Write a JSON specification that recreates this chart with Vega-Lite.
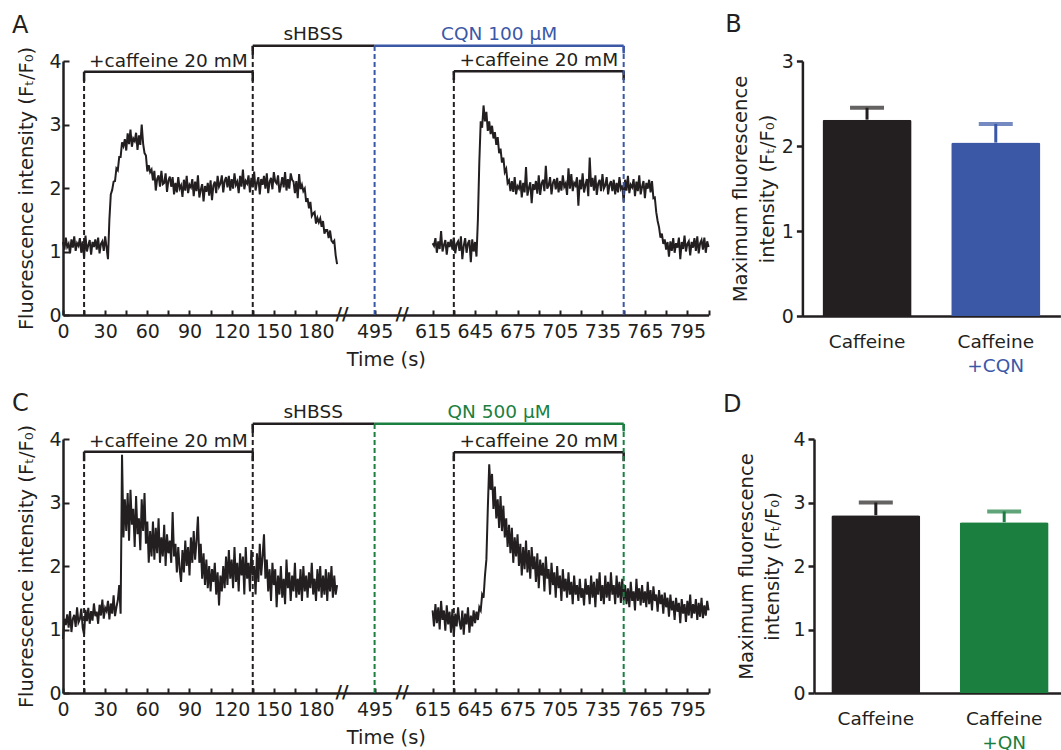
{
"$schema": "https://vega.github.io/schema/vega-lite/v6.json",
"padding": {"left": 11, "top": 13, "right": 0, "bottom": 0},
"config": {
 "font": "DejaVu Sans",
 "view": {"stroke": null},
 "axis": {"labelFont": "DejaVu Sans", "titleFont": "DejaVu Sans", "labelColor": "#231f20", "titleColor": "#231f20", "domainColor": "#231f20", "tickColor": "#231f20", "grid": false, "labelFontSize": 19, "titleFontSize": 19.5, "titleFontWeight": "normal", "domainWidth": 2.5, "tickWidth": 2, "labelFlush": false, "labelOverlap": false, "labelBound": false},
 "title": {"fontSize": 24, "fontWeight": "normal", "anchor": "start", "frame": "bounds", "color": "#231f20", "font": "DejaVu Sans"},
 "text": {"font": "DejaVu Sans"}
},
"datasets": {
 "a1": [{"t":0,"f":1.15},{"t":1,"f":1.03},{"t":2,"f":1.22},{"t":3,"f":1.07},{"t":4,"f":1.12},{"t":5,"f":0.97},{"t":6,"f":1.19},{"t":7,"f":1.06},{"t":8,"f":1.24},{"t":9,"f":1.01},{"t":10,"f":1.13},{"t":11,"f":1.09},{"t":12,"f":1.21},{"t":13,"f":0.98},{"t":14,"f":1.16},{"t":15,"f":0.9},{"t":16,"f":1.25},{"t":17,"f":1.0},{"t":18,"f":1.1},{"t":19,"f":1.18},{"t":20,"f":0.95},{"t":21,"f":1.15},{"t":22,"f":1.07},{"t":23,"f":1.19},{"t":24,"f":1.03},{"t":25,"f":1.22},{"t":26,"f":0.97},{"t":27,"f":1.12},{"t":28,"f":1.16},{"t":29,"f":1.01},{"t":30,"f":1.24},{"t":31,"f":1.06},{"t":32,"f":0.88},{"t":33,"f":1.5},{"t":34,"f":1.9},{"t":35,"f":1.97},{"t":36,"f":2.1},{"t":37,"f":2.11},{"t":38,"f":2.31},{"t":39,"f":2.28},{"t":40,"f":2.49},{"t":41,"f":2.49},{"t":42,"f":2.72},{"t":43,"f":2.66},{"t":44,"f":2.77},{"t":45,"f":2.59},{"t":46,"f":2.86},{"t":47,"f":2.69},{"t":48,"f":2.92},{"t":49,"f":2.65},{"t":50,"f":2.78},{"t":51,"f":2.74},{"t":52,"f":2.87},{"t":53,"f":2.6},{"t":54,"f":2.83},{"t":55,"f":2.68},{"t":56,"f":3.0},{"t":57,"f":2.7},{"t":58,"f":2.55},{"t":59,"f":2.51},{"t":60,"f":2.26},{"t":61,"f":2.36},{"t":62,"f":2.25},{"t":63,"f":2.29},{"t":64,"f":2.12},{"t":65,"f":2.27},{"t":66,"f":1.96},{"t":67,"f":2.14},{"t":68,"f":2.2},{"t":69,"f":2.02},{"t":70,"f":2.27},{"t":71,"f":2.06},{"t":72,"f":2.08},{"t":73,"f":2.23},{"t":74,"f":1.94},{"t":75,"f":2.12},{"t":76,"f":2.18},{"t":77,"f":2.02},{"t":78,"f":2.17},{"t":79,"f":1.9},{"t":80,"f":2.08},{"t":81,"f":1.93},{"t":82,"f":2.17},{"t":83,"f":1.99},{"t":84,"f":2.04},{"t":85,"f":1.86},{"t":86,"f":2.13},{"t":87,"f":1.96},{"t":88,"f":2.19},{"t":89,"f":1.92},{"t":90,"f":2.05},{"t":91,"f":2.01},{"t":92,"f":2.14},{"t":93,"f":1.87},{"t":94,"f":2.1},{"t":95,"f":1.95},{"t":96,"f":2.2},{"t":97,"f":1.85},{"t":98,"f":1.97},{"t":99,"f":2.06},{"t":100,"f":1.79},{"t":101,"f":2.03},{"t":102,"f":1.94},{"t":103,"f":2.08},{"t":104,"f":1.88},{"t":105,"f":2.12},{"t":106,"f":1.81},{"t":107,"f":2.04},{"t":108,"f":2.1},{"t":109,"f":1.92},{"t":110,"f":2.19},{"t":111,"f":2.02},{"t":112,"f":2.07},{"t":113,"f":2.2},{"t":114,"f":1.93},{"t":115,"f":2.11},{"t":116,"f":2.17},{"t":117,"f":2.01},{"t":118,"f":2.19},{"t":119,"f":1.96},{"t":120,"f":2.14},{"t":121,"f":1.99},{"t":122,"f":2.23},{"t":123,"f":2.05},{"t":124,"f":2.1},{"t":125,"f":1.92},{"t":126,"f":2.19},{"t":127,"f":2.02},{"t":128,"f":2.29},{"t":129,"f":1.98},{"t":130,"f":2.11},{"t":131,"f":2.07},{"t":132,"f":2.2},{"t":133,"f":1.93},{"t":134,"f":2.16},{"t":135,"f":2.01},{"t":136,"f":2.26},{"t":137,"f":1.96},{"t":138,"f":2.08},{"t":139,"f":2.17},{"t":140,"f":1.9},{"t":141,"f":2.14},{"t":142,"f":2.05},{"t":143,"f":2.19},{"t":144,"f":1.99},{"t":145,"f":2.23},{"t":146,"f":1.92},{"t":147,"f":2.1},{"t":148,"f":2.16},{"t":149,"f":1.98},{"t":150,"f":2.25},{"t":151,"f":2.1},{"t":152,"f":2.07},{"t":153,"f":2.2},{"t":154,"f":1.93},{"t":155,"f":2.04},{"t":156,"f":2.17},{"t":157,"f":2.01},{"t":158,"f":2.25},{"t":159,"f":1.96},{"t":160,"f":2.14},{"t":161,"f":1.99},{"t":162,"f":2.23},{"t":163,"f":2.13},{"t":164,"f":2.1},{"t":165,"f":1.92},{"t":166,"f":2.11},{"t":167,"f":1.84},{"t":168,"f":2.22},{"t":169,"f":1.98},{"t":170,"f":2.05},{"t":171,"f":1.95},{"t":172,"f":1.99},{"t":173,"f":1.78},{"t":174,"f":1.84},{"t":175,"f":1.68},{"t":176,"f":1.78},{"t":177,"f":1.56},{"t":178,"f":1.6},{"t":179,"f":1.62},{"t":180,"f":1.44},{"t":181,"f":1.53},{"t":182,"f":1.46},{"t":183,"f":1.52},{"t":184,"f":1.39},{"t":185,"f":1.48},{"t":186,"f":1.28},{"t":187,"f":1.34},{"t":188,"f":1.34},{"t":189,"f":1.21},{"t":190,"f":1.33},{"t":191,"f":1.17},{"t":192,"f":1.14},{"t":193,"f":1.17},{"t":194,"f":0.94},{"t":195,"f":0.8}],
 "a2": [{"t":615,"f":1.13},{"t":616,"f":1.09},{"t":617,"f":1.21},{"t":618,"f":0.98},{"t":619,"f":1.16},{"t":620,"f":1.04},{"t":621,"f":1.32},{"t":622,"f":1.0},{"t":623,"f":1.1},{"t":624,"f":1.18},{"t":625,"f":0.95},{"t":626,"f":1.15},{"t":627,"f":1.07},{"t":628,"f":1.19},{"t":629,"f":1.03},{"t":630,"f":1.22},{"t":631,"f":0.97},{"t":632,"f":1.12},{"t":633,"f":1.16},{"t":634,"f":1.01},{"t":635,"f":1.24},{"t":636,"f":0.88},{"t":637,"f":1.09},{"t":638,"f":1.21},{"t":639,"f":0.98},{"t":640,"f":1.13},{"t":641,"f":1.18},{"t":642,"f":0.83},{"t":643,"f":1.19},{"t":644,"f":1.0},{"t":645,"f":1.15},{"t":646,"f":0.92},{"t":647,"f":1.5},{"t":648,"f":2.4},{"t":649,"f":3.05},{"t":650,"f":2.95},{"t":651,"f":3.3},{"t":652,"f":3.05},{"t":653,"f":3.2},{"t":654,"f":2.9},{"t":655,"f":3.05},{"t":656,"f":2.85},{"t":657,"f":2.98},{"t":658,"f":2.78},{"t":659,"f":2.88},{"t":660,"f":2.68},{"t":661,"f":2.8},{"t":662,"f":2.55},{"t":663,"f":2.62},{"t":664,"f":2.4},{"t":665,"f":2.48},{"t":666,"f":2.25},{"t":667,"f":2.3},{"t":668,"f":2.08},{"t":669,"f":2.12},{"t":670,"f":1.95},{"t":671,"f":2.11},{"t":672,"f":1.94},{"t":673,"f":2.17},{"t":674,"f":1.9},{"t":675,"f":2.03},{"t":676,"f":1.99},{"t":677,"f":2.12},{"t":678,"f":1.85},{"t":679,"f":2.08},{"t":680,"f":1.93},{"t":681,"f":2.33},{"t":682,"f":1.88},{"t":683,"f":2.0},{"t":684,"f":2.09},{"t":685,"f":1.76},{"t":686,"f":2.06},{"t":687,"f":1.97},{"t":688,"f":2.11},{"t":689,"f":1.91},{"t":690,"f":2.2},{"t":691,"f":1.89},{"t":692,"f":2.07},{"t":693,"f":2.13},{"t":694,"f":1.95},{"t":695,"f":2.35},{"t":696,"f":1.99},{"t":697,"f":2.04},{"t":698,"f":2.17},{"t":699,"f":1.9},{"t":700,"f":2.08},{"t":701,"f":2.14},{"t":702,"f":1.98},{"t":703,"f":2.16},{"t":704,"f":1.93},{"t":705,"f":2.11},{"t":706,"f":1.96},{"t":707,"f":2.2},{"t":708,"f":2.02},{"t":709,"f":2.07},{"t":710,"f":1.89},{"t":711,"f":2.31},{"t":712,"f":1.99},{"t":713,"f":2.22},{"t":714,"f":1.95},{"t":715,"f":2.08},{"t":716,"f":2.04},{"t":717,"f":2.17},{"t":718,"f":1.72},{"t":719,"f":2.13},{"t":720,"f":1.98},{"t":721,"f":2.23},{"t":722,"f":1.93},{"t":723,"f":2.05},{"t":724,"f":2.14},{"t":725,"f":1.87},{"t":726,"f":2.48},{"t":727,"f":2.02},{"t":728,"f":2.16},{"t":729,"f":1.96},{"t":730,"f":2.2},{"t":731,"f":1.89},{"t":732,"f":2.07},{"t":733,"f":2.13},{"t":734,"f":1.95},{"t":735,"f":2.22},{"t":736,"f":1.99},{"t":737,"f":2.04},{"t":738,"f":2.17},{"t":739,"f":1.9},{"t":740,"f":2.05},{"t":741,"f":2.11},{"t":742,"f":1.95},{"t":743,"f":2.13},{"t":744,"f":1.9},{"t":745,"f":2.08},{"t":746,"f":1.93},{"t":747,"f":2.17},{"t":748,"f":1.99},{"t":749,"f":2.04},{"t":750,"f":1.78},{"t":751,"f":2.13},{"t":752,"f":1.96},{"t":753,"f":2.19},{"t":754,"f":1.92},{"t":755,"f":2.05},{"t":756,"f":2.01},{"t":757,"f":2.14},{"t":758,"f":1.87},{"t":759,"f":2.1},{"t":760,"f":1.95},{"t":761,"f":2.2},{"t":762,"f":1.9},{"t":763,"f":2.02},{"t":764,"f":2.11},{"t":765,"f":1.84},{"t":766,"f":2.08},{"t":767,"f":1.99},{"t":768,"f":2.13},{"t":769,"f":1.93},{"t":770,"f":2.11},{"t":771,"f":1.84},{"t":772,"f":1.85},{"t":773,"f":1.62},{"t":774,"f":1.48},{"t":775,"f":1.38},{"t":776,"f":1.22},{"t":777,"f":1.28},{"t":778,"f":1.12},{"t":779,"f":1.19},{"t":780,"f":1.03},{"t":781,"f":1.15},{"t":782,"f":0.92},{"t":783,"f":1.16},{"t":784,"f":1.01},{"t":785,"f":1.21},{"t":786,"f":0.98},{"t":787,"f":1.13},{"t":788,"f":1.06},{"t":789,"f":1.22},{"t":790,"f":0.88},{"t":791,"f":1.15},{"t":792,"f":1.04},{"t":793,"f":1.25},{"t":794,"f":1.0},{"t":795,"f":1.12},{"t":796,"f":1.16},{"t":797,"f":0.94},{"t":798,"f":1.15},{"t":799,"f":1.06},{"t":800,"f":1.21},{"t":801,"f":1.01},{"t":802,"f":1.24},{"t":803,"f":0.97},{"t":804,"f":1.13},{"t":805,"f":1.18},{"t":806,"f":1.03},{"t":807,"f":1.22},{"t":808,"f":0.98},{"t":809,"f":1.16},{"t":810,"f":1.07}],
 "c1": [{"t":0,"f":0.85},{"t":1,"f":1.17},{"t":2,"f":1.07},{"t":3,"f":1.24},{"t":4,"f":1.03},{"t":5,"f":1.29},{"t":6,"f":0.96},{"t":7,"f":1.17},{"t":8,"f":1.23},{"t":9,"f":1.04},{"t":10,"f":1.35},{"t":11,"f":1.11},{"t":12,"f":1.16},{"t":13,"f":1.33},{"t":14,"f":1.03},{"t":15,"f":0.92},{"t":16,"f":1.31},{"t":17,"f":1.13},{"t":18,"f":1.34},{"t":19,"f":1.09},{"t":20,"f":1.29},{"t":21,"f":1.14},{"t":22,"f":1.41},{"t":23,"f":1.21},{"t":24,"f":1.28},{"t":25,"f":1.09},{"t":26,"f":1.39},{"t":27,"f":1.22},{"t":28,"f":1.47},{"t":29,"f":1.17},{"t":30,"f":1.34},{"t":31,"f":1.29},{"t":32,"f":1.45},{"t":33,"f":1.16},{"t":34,"f":1.41},{"t":35,"f":1.25},{"t":36,"f":1.54},{"t":37,"f":1.21},{"t":38,"f":1.35},{"t":39,"f":1.46},{"t":40,"f":1.7},{"t":41,"f":1.25},{"t":42,"f":3.75},{"t":43,"f":2.45},{"t":44,"f":3.05},{"t":45,"f":2.55},{"t":46,"f":3.15},{"t":47,"f":2.4},{"t":48,"f":3.2},{"t":49,"f":2.65},{"t":50,"f":2.9},{"t":51,"f":2.3},{"t":52,"f":3.1},{"t":53,"f":2.5},{"t":54,"f":2.75},{"t":55,"f":2.25},{"t":56,"f":3.05},{"t":57,"f":2.55},{"t":58,"f":3.15},{"t":59,"f":2.35},{"t":60,"f":2.7},{"t":61,"f":2.05},{"t":62,"f":2.55},{"t":63,"f":2.15},{"t":64,"f":2.7},{"t":65,"f":2.1},{"t":66,"f":2.6},{"t":67,"f":2.2},{"t":68,"f":2.75},{"t":69,"f":2.05},{"t":70,"f":2.45},{"t":71,"f":2.15},{"t":72,"f":2.65},{"t":73,"f":2.0},{"t":74,"f":2.5},{"t":75,"f":2.2},{"t":76,"f":2.4},{"t":77,"f":2.05},{"t":78,"f":2.85},{"t":79,"f":2.15},{"t":80,"f":2.35},{"t":81,"f":1.9},{"t":82,"f":2.3},{"t":83,"f":1.95},{"t":84,"f":1.75},{"t":85,"f":2.25},{"t":86,"f":1.9},{"t":87,"f":2.4},{"t":88,"f":2.0},{"t":89,"f":2.3},{"t":90,"f":1.85},{"t":91,"f":2.45},{"t":92,"f":2.05},{"t":93,"f":2.55},{"t":94,"f":2.1},{"t":95,"f":2.4},{"t":96,"f":2.78},{"t":97,"f":2.05},{"t":98,"f":2.35},{"t":99,"f":1.8},{"t":100,"f":2.2},{"t":101,"f":1.7},{"t":102,"f":2.1},{"t":103,"f":1.65},{"t":104,"f":2.0},{"t":105,"f":1.6},{"t":106,"f":1.95},{"t":107,"f":1.75},{"t":108,"f":2.05},{"t":109,"f":1.55},{"t":110,"f":1.9},{"t":111,"f":1.38},{"t":112,"f":1.85},{"t":113,"f":1.6},{"t":114,"f":2.0},{"t":115,"f":1.65},{"t":116,"f":2.15},{"t":117,"f":1.7},{"t":118,"f":2.25},{"t":119,"f":1.8},{"t":120,"f":2.1},{"t":121,"f":1.65},{"t":122,"f":2.3},{"t":123,"f":1.75},{"t":124,"f":2.05},{"t":125,"f":1.6},{"t":126,"f":2.2},{"t":127,"f":1.85},{"t":128,"f":2.15},{"t":129,"f":1.55},{"t":130,"f":2.3},{"t":131,"f":1.8},{"t":132,"f":2.05},{"t":133,"f":1.6},{"t":134,"f":2.25},{"t":135,"f":1.85},{"t":136,"f":2.0},{"t":137,"f":1.55},{"t":138,"f":2.2},{"t":139,"f":1.75},{"t":140,"f":2.35},{"t":141,"f":1.85},{"t":142,"f":2.15},{"t":143,"f":2.5},{"t":144,"f":1.8},{"t":145,"f":2.1},{"t":146,"f":1.6},{"t":147,"f":1.95},{"t":148,"f":1.45},{"t":149,"f":2.05},{"t":150,"f":1.7},{"t":151,"f":1.95},{"t":152,"f":1.35},{"t":153,"f":1.85},{"t":154,"f":1.55},{"t":155,"f":2.0},{"t":156,"f":1.5},{"t":157,"f":1.8},{"t":158,"f":1.4},{"t":159,"f":2.1},{"t":160,"f":1.65},{"t":161,"f":1.9},{"t":162,"f":1.45},{"t":163,"f":1.85},{"t":164,"f":1.6},{"t":165,"f":2.05},{"t":166,"f":1.5},{"t":167,"f":1.8},{"t":168,"f":1.55},{"t":169,"f":1.95},{"t":170,"f":1.45},{"t":171,"f":2.0},{"t":172,"f":1.6},{"t":173,"f":1.85},{"t":174,"f":1.5},{"t":175,"f":1.9},{"t":176,"f":1.65},{"t":177,"f":2.05},{"t":178,"f":1.55},{"t":179,"f":1.8},{"t":180,"f":1.45},{"t":181,"f":1.95},{"t":182,"f":1.6},{"t":183,"f":2.0},{"t":184,"f":1.5},{"t":185,"f":1.85},{"t":186,"f":1.55},{"t":187,"f":1.95},{"t":188,"f":1.45},{"t":189,"f":1.9},{"t":190,"f":1.6},{"t":191,"f":2.0},{"t":192,"f":1.5},{"t":193,"f":1.85},{"t":194,"f":1.55},{"t":195,"f":1.7}],
 "c2": [{"t":615,"f":1.3},{"t":616,"f":1.05},{"t":617,"f":1.4},{"t":618,"f":1.1},{"t":619,"f":1.35},{"t":620,"f":1.0},{"t":621,"f":1.45},{"t":622,"f":1.15},{"t":623,"f":1.3},{"t":624,"f":0.98},{"t":625,"f":1.38},{"t":626,"f":1.08},{"t":627,"f":1.28},{"t":628,"f":0.95},{"t":629,"f":1.32},{"t":630,"f":0.9},{"t":631,"f":1.25},{"t":632,"f":1.05},{"t":633,"f":1.35},{"t":634,"f":1.12},{"t":635,"f":1.0},{"t":636,"f":1.3},{"t":637,"f":0.92},{"t":638,"f":1.25},{"t":639,"f":1.08},{"t":640,"f":1.35},{"t":641,"f":0.95},{"t":642,"f":1.22},{"t":643,"f":1.05},{"t":644,"f":1.3},{"t":645,"f":1.1},{"t":646,"f":1.28},{"t":647,"f":1.15},{"t":648,"f":1.35},{"t":649,"f":1.3},{"t":650,"f":1.55},{"t":651,"f":1.5},{"t":652,"f":1.85},{"t":653,"f":2.1},{"t":654,"f":2.9},{"t":655,"f":3.6},{"t":656,"f":3.2},{"t":657,"f":3.45},{"t":658,"f":2.9},{"t":659,"f":3.25},{"t":660,"f":2.75},{"t":661,"f":3.05},{"t":662,"f":2.6},{"t":663,"f":3.1},{"t":664,"f":2.55},{"t":665,"f":2.95},{"t":666,"f":2.45},{"t":667,"f":2.75},{"t":668,"f":2.3},{"t":669,"f":2.65},{"t":670,"f":2.2},{"t":671,"f":2.6},{"t":672,"f":2.05},{"t":673,"f":2.45},{"t":674,"f":2.15},{"t":675,"f":2.5},{"t":676,"f":2.0},{"t":677,"f":2.35},{"t":678,"f":1.85},{"t":679,"f":2.3},{"t":680,"f":1.95},{"t":681,"f":2.4},{"t":682,"f":1.9},{"t":683,"f":2.25},{"t":684,"f":1.8},{"t":685,"f":2.3},{"t":686,"f":1.95},{"t":687,"f":2.15},{"t":688,"f":1.75},{"t":689,"f":2.2},{"t":690,"f":1.65},{"t":691,"f":2.1},{"t":692,"f":1.85},{"t":693,"f":2.05},{"t":694,"f":1.6},{"t":695,"f":2.15},{"t":696,"f":1.8},{"t":697,"f":1.95},{"t":698,"f":1.55},{"t":699,"f":2.05},{"t":700,"f":1.7},{"t":701,"f":1.9},{"t":702,"f":1.5},{"t":703,"f":2.0},{"t":704,"f":1.65},{"t":705,"f":1.85},{"t":706,"f":1.45},{"t":707,"f":1.95},{"t":708,"f":1.6},{"t":709,"f":1.8},{"t":710,"f":1.5},{"t":711,"f":1.9},{"t":712,"f":1.55},{"t":713,"f":1.75},{"t":714,"f":1.4},{"t":715,"f":1.85},{"t":716,"f":1.55},{"t":717,"f":1.7},{"t":718,"f":1.45},{"t":719,"f":1.8},{"t":720,"f":1.5},{"t":721,"f":1.65},{"t":722,"f":1.38},{"t":723,"f":1.8},{"t":724,"f":1.55},{"t":725,"f":1.7},{"t":726,"f":1.4},{"t":727,"f":1.85},{"t":728,"f":1.5},{"t":729,"f":1.75},{"t":730,"f":1.35},{"t":731,"f":1.8},{"t":732,"f":1.55},{"t":733,"f":1.9},{"t":734,"f":1.45},{"t":735,"f":1.7},{"t":736,"f":1.4},{"t":737,"f":1.85},{"t":738,"f":1.5},{"t":739,"f":1.75},{"t":740,"f":1.45},{"t":741,"f":1.9},{"t":742,"f":1.55},{"t":743,"f":1.7},{"t":744,"f":1.4},{"t":745,"f":1.85},{"t":746,"f":1.5},{"t":747,"f":1.75},{"t":748,"f":1.42},{"t":749,"f":1.8},{"t":750,"f":1.45},{"t":751,"f":1.7},{"t":752,"f":1.4},{"t":753,"f":1.65},{"t":754,"f":1.35},{"t":755,"f":1.75},{"t":756,"f":1.45},{"t":757,"f":1.6},{"t":758,"f":1.3},{"t":759,"f":1.8},{"t":760,"f":1.45},{"t":761,"f":1.65},{"t":762,"f":1.38},{"t":763,"f":1.7},{"t":764,"f":1.42},{"t":765,"f":1.6},{"t":766,"f":1.35},{"t":767,"f":1.75},{"t":768,"f":1.4},{"t":769,"f":1.62},{"t":770,"f":1.3},{"t":771,"f":1.68},{"t":772,"f":1.45},{"t":773,"f":1.55},{"t":774,"f":1.28},{"t":775,"f":1.62},{"t":776,"f":1.4},{"t":777,"f":1.55},{"t":778,"f":1.25},{"t":779,"f":1.58},{"t":780,"f":1.35},{"t":781,"f":1.5},{"t":782,"f":1.2},{"t":783,"f":1.55},{"t":784,"f":1.3},{"t":785,"f":1.45},{"t":786,"f":1.15},{"t":787,"f":1.5},{"t":788,"f":1.28},{"t":789,"f":1.42},{"t":790,"f":1.1},{"t":791,"f":1.48},{"t":792,"f":1.25},{"t":793,"f":1.4},{"t":794,"f":1.12},{"t":795,"f":1.45},{"t":796,"f":1.22},{"t":797,"f":1.55},{"t":798,"f":1.18},{"t":799,"f":1.4},{"t":800,"f":1.25},{"t":801,"f":1.48},{"t":802,"f":1.15},{"t":803,"f":1.42},{"t":804,"f":1.2},{"t":805,"f":1.5},{"t":806,"f":1.18},{"t":807,"f":1.38},{"t":808,"f":1.22},{"t":809,"f":1.45},{"t":810,"f":1.3}],
 "annA": [
  {"d":"s","t":15,"t2":135,"y":3.83,"y2":3.83,"g":"k"},
  {"d":"s","t":15,"t2":15,"y":3.83,"y2":3.68,"g":"k"},
  {"d":"s","t":135,"t2":135,"y":3.83,"y2":3.68,"g":"k"},
  {"d":"s","t":135,"t2":495,"y":4.24,"y2":4.24,"g":"k"},
  {"d":"s","t":135,"t2":135,"y":4.24,"y2":4.1,"g":"k"},
  {"d":"s","t":495,"t2":750,"y":4.24,"y2":4.24,"g":"q"},
  {"d":"s","t":750,"t2":750,"y":4.24,"y2":4.12,"g":"q"},
  {"d":"s","t":630,"t2":750,"y":3.84,"y2":3.84,"g":"k"},
  {"d":"s","t":630,"t2":630,"y":3.84,"y2":3.7,"g":"k"},
  {"d":"s","t":750,"t2":750,"y":3.84,"y2":3.7,"g":"k"},
  {"d":"d","t":15,"t2":15,"y":0,"y2":3.83,"g":"k"},
  {"d":"d","t":135,"t2":135,"y":0,"y2":4.24,"g":"k"},
  {"d":"d","t":630,"t2":630,"y":0,"y2":3.84,"g":"k"},
  {"d":"d","t":495,"t2":495,"y":0,"y2":4.24,"g":"q"},
  {"d":"d","t":750,"t2":750,"y":0,"y2":4.24,"g":"q"}
 ],
 "annC": [
  {"d":"s","t":15,"t2":135,"y":3.8,"y2":3.8,"g":"k"},
  {"d":"s","t":15,"t2":15,"y":3.8,"y2":3.65,"g":"k"},
  {"d":"s","t":135,"t2":135,"y":3.8,"y2":3.65,"g":"k"},
  {"d":"s","t":135,"t2":495,"y":4.24,"y2":4.24,"g":"k"},
  {"d":"s","t":135,"t2":135,"y":4.24,"y2":4.1,"g":"k"},
  {"d":"s","t":495,"t2":750,"y":4.24,"y2":4.24,"g":"n"},
  {"d":"s","t":750,"t2":750,"y":4.24,"y2":4.12,"g":"n"},
  {"d":"s","t":630,"t2":750,"y":3.79,"y2":3.79,"g":"k"},
  {"d":"s","t":630,"t2":630,"y":3.79,"y2":3.65,"g":"k"},
  {"d":"s","t":750,"t2":750,"y":3.79,"y2":3.65,"g":"k"},
  {"d":"d","t":15,"t2":15,"y":0,"y2":3.8,"g":"k"},
  {"d":"d","t":135,"t2":135,"y":0,"y2":4.24,"g":"k"},
  {"d":"d","t":630,"t2":630,"y":0,"y2":3.79,"g":"k"},
  {"d":"d","t":495,"t2":495,"y":0,"y2":4.24,"g":"n"},
  {"d":"d","t":750,"t2":750,"y":0,"y2":4.24,"g":"n"}
 ],
 "txtA": [
  {"t":75,"y":3.9,"label":"+caffeine 20 mM","g":"k"},
  {"t":178,"y":4.33,"label":"sHBSS","g":"k"},
  {"t":662,"y":4.33,"label":"CQN 100 μM","g":"q"},
  {"t":690,"y":3.92,"label":"+caffeine 20 mM","g":"k"}
 ],
 "txtC": [
  {"t":75,"y":3.87,"label":"+caffeine 20 mM","g":"k"},
  {"t":178,"y":4.33,"label":"sHBSS","g":"k"},
  {"t":662,"y":4.33,"label":"QN 500 μM","g":"n"},
  {"t":690,"y":3.87,"label":"+caffeine 20 mM","g":"k"}
 ],
 "brk": [{"t":198.5,"y":0},{"t":552,"y":0}],
 "barB": [{"cat":"Caffeine","v":2.31,"e":2.45,"g":"k","sub":""},{"cat":"Caffeine +CQN","v":2.04,"e":2.26,"g":"q","sub":"+CQN"}],
 "barD": [{"cat":"Caffeine","v":2.8,"e":3.0,"g":"k","sub":""},{"cat":"Caffeine +QN","v":2.69,"e":2.86,"g":"n","sub":"+QN"}]
},
"spacing": 16,
"vconcat": [
 {"hconcat": [
  {"title": {"text": "A", "offset": -13, "dx": -5},
   "width": 646, "height": 254,
   "layer": [
    {"data": {"name": "a1"}, "mark": {"type": "line", "color": "#231f20", "strokeWidth": 2},
     "encoding": {
      "x": {"field": "t", "type": "quantitative", "title": "Time (s)",
            "scale": {"domain": [0, 198.5, 495, 615, 810], "range": [0, 279, 311.6, 369.6, 645.6], "nice": false, "zero": false},
            "axis": {"values": [0,15,30,45,60,75,90,105,120,135,150,165,180,495,615,630,645,660,675,690,705,720,735,750,765,780,795,810], "tickCount": 100, "labelExpr": "indexof([0,30,60,90,120,150,180,495,615,645,675,705,735,765,795], datum.value) >= 0 ? datum.label : ''", "format": "d", "tickSize": -5, "labelPadding": 12, "titlePadding": 9}},
      "y": {"field": "f", "type": "quantitative", "title": "Fluorescence intensity (Fₜ/F₀)",
            "scale": {"domain": [0, 4], "nice": false},
            "axis": {"values": [0,1,2,3,4], "format": "d", "tickSize": -6, "labelPadding": 8, "titlePadding": 12}}
     }},
    {"data": {"name": "a2"}, "mark": {"type": "line", "color": "#231f20", "strokeWidth": 2},
     "encoding": {"x": {"field": "t", "type": "quantitative"}, "y": {"field": "f", "type": "quantitative"}}},
    {"data": {"name": "annA"}, "transform": [{"filter": "datum.d == 's'"}], "mark": {"type": "rule", "strokeWidth": 2.5},
     "encoding": {"x": {"field": "t", "type": "quantitative"}, "x2": {"field": "t2"}, "y": {"field": "y", "type": "quantitative"}, "y2": {"field": "y2"},
      "color": {"field": "g", "type": "nominal", "scale": {"domain": ["k","q","n"], "range": ["#231f20","#3b58a7","#1b7f40"]}, "legend": null}}},
    {"data": {"name": "annA"}, "transform": [{"filter": "datum.d == 'd'"}], "mark": {"type": "rule", "strokeWidth": 2, "strokeDash": [5, 3]},
     "encoding": {"x": {"field": "t", "type": "quantitative"}, "y": {"field": "y", "type": "quantitative"}, "y2": {"field": "y2"},
      "color": {"field": "g", "type": "nominal", "legend": null}}},
    {"data": {"name": "txtA"}, "mark": {"type": "text", "fontSize": 18.5, "baseline": "alphabetic", "align": "center"},
     "encoding": {"x": {"field": "t", "type": "quantitative"}, "y": {"field": "y", "type": "quantitative"}, "text": {"field": "label"},
      "color": {"field": "g", "type": "nominal", "legend": null}}},
    {"data": {"name": "brk"}, "mark": {"type": "text", "fontSize": 18, "baseline": "middle", "align": "center", "text": "//", "color": "#231f20", "fontWeight": "bold"},
     "encoding": {"x": {"field": "t", "type": "quantitative"}, "y": {"field": "y", "type": "quantitative"}}}
   ]},
  {"title": {"text": "B", "offset": 15, "dx": -5},
   "width": 258, "height": 255,
   "data": {"name": "barB"},
   "layer": [
    {"mark": {"type": "bar", "cornerRadiusTopLeft": 2, "cornerRadiusTopRight": 2},
     "encoding": {
      "x": {"field": "cat", "type": "nominal", "sort": null, "title": null, "scale": {"paddingInner": 0.308, "paddingOuter": 0.156},
            "axis": {"labelExpr": "'Caffeine'", "ticks": false, "labelPadding": 16, "labelAngle": 0, "labelFontSize": 18.5}},
      "y": {"field": "v", "type": "quantitative", "title": ["Maximum fluorescence", "intensity (Fₜ/F₀)"], "scale": {"domain": [0, 3], "nice": false},
            "axis": {"values": [0,1,2,3], "format": "d", "tickSize": 6, "tickWidth": 2.5, "labelPadding": 3, "titlePadding": 4, "titleLineHeight": 27}},
      "color": {"field": "g", "type": "nominal", "legend": null}}},
    {"mark": {"type": "rule", "strokeWidth": 3},
     "encoding": {"x": {"field": "cat", "type": "nominal", "sort": null}, "y": {"field": "v", "type": "quantitative"}, "y2": {"field": "e"}, "color": {"field": "g", "type": "nominal", "legend": null}}},
    {"mark": {"type": "tick", "thickness": 4, "size": 34},
     "encoding": {"x": {"field": "cat", "type": "nominal", "sort": null}, "y": {"field": "e", "type": "quantitative"}, "color": {"field": "g", "type": "nominal", "legend": null}}},
    {"mark": {"type": "text", "fontSize": 18.5, "baseline": "top", "dy": 41},
     "encoding": {"x": {"field": "cat", "type": "nominal", "sort": null}, "y": {"datum": 0, "type": "quantitative"}, "text": {"field": "sub"}, "color": {"field": "g", "type": "nominal", "legend": null}}}
   ]}
 ], "spacing": 93.4, "bounds": "flush"},
 {"hconcat": [
  {"title": {"text": "C", "offset": -13, "dx": -5},
   "width": 646, "height": 254,
   "layer": [
    {"data": {"name": "c1"}, "mark": {"type": "line", "color": "#231f20", "strokeWidth": 2},
     "encoding": {
      "x": {"field": "t", "type": "quantitative", "title": "Time (s)",
            "scale": {"domain": [0, 198.5, 495, 615, 810], "range": [0, 279, 311.6, 369.6, 645.6], "nice": false, "zero": false},
            "axis": {"values": [0,15,30,45,60,75,90,105,120,135,150,165,180,495,615,630,645,660,675,690,705,720,735,750,765,780,795,810], "tickCount": 100, "labelExpr": "indexof([0,30,60,90,120,150,180,495,615,645,675,705,735,765,795], datum.value) >= 0 ? datum.label : ''", "format": "d", "tickSize": -5, "labelPadding": 12, "titlePadding": 9}},
      "y": {"field": "f", "type": "quantitative", "title": "Fluorescence intensity (Fₜ/F₀)",
            "scale": {"domain": [0, 4], "nice": false},
            "axis": {"values": [0,1,2,3,4], "format": "d", "tickSize": -6, "labelPadding": 8, "titlePadding": 12}}
     }},
    {"data": {"name": "c2"}, "mark": {"type": "line", "color": "#231f20", "strokeWidth": 2},
     "encoding": {"x": {"field": "t", "type": "quantitative"}, "y": {"field": "f", "type": "quantitative"}}},
    {"data": {"name": "annC"}, "transform": [{"filter": "datum.d == 's'"}], "mark": {"type": "rule", "strokeWidth": 2.5},
     "encoding": {"x": {"field": "t", "type": "quantitative"}, "x2": {"field": "t2"}, "y": {"field": "y", "type": "quantitative"}, "y2": {"field": "y2"},
      "color": {"field": "g", "type": "nominal", "scale": {"domain": ["k","q","n"], "range": ["#231f20","#3b58a7","#1b7f40"]}, "legend": null}}},
    {"data": {"name": "annC"}, "transform": [{"filter": "datum.d == 'd'"}], "mark": {"type": "rule", "strokeWidth": 2, "strokeDash": [5, 3]},
     "encoding": {"x": {"field": "t", "type": "quantitative"}, "y": {"field": "y", "type": "quantitative"}, "y2": {"field": "y2"},
      "color": {"field": "g", "type": "nominal", "legend": null}}},
    {"data": {"name": "txtC"}, "mark": {"type": "text", "fontSize": 18.5, "baseline": "alphabetic", "align": "center"},
     "encoding": {"x": {"field": "t", "type": "quantitative"}, "y": {"field": "y", "type": "quantitative"}, "text": {"field": "label"},
      "color": {"field": "g", "type": "nominal", "legend": null}}},
    {"data": {"name": "brk"}, "mark": {"type": "text", "fontSize": 18, "baseline": "middle", "align": "center", "text": "//", "color": "#231f20", "fontWeight": "bold"},
     "encoding": {"x": {"field": "t", "type": "quantitative"}, "y": {"field": "y", "type": "quantitative"}}}
   ]},
  {"title": {"text": "D", "offset": 13, "dx": -14},
   "width": 252, "height": 254,
   "data": {"name": "barD"},
   "layer": [
    {"mark": {"type": "bar", "cornerRadiusTopLeft": 2, "cornerRadiusTopRight": 2},
     "encoding": {
      "x": {"field": "cat", "type": "nominal", "sort": null, "title": null, "scale": {"paddingInner": 0.307, "paddingOuter": 0.135},
            "axis": {"labelExpr": "'Caffeine'", "ticks": false, "labelPadding": 16, "labelAngle": 0, "labelFontSize": 18.5}},
      "y": {"field": "v", "type": "quantitative", "title": ["Maximum fluorescence", "intensity (Fₜ/F₀)"], "scale": {"domain": [0, 4], "nice": false},
            "axis": {"values": [0,1,2,3,4], "format": "d", "tickSize": 6, "tickWidth": 2.5, "labelPadding": 3, "titlePadding": 10, "titleLineHeight": 26}},
      "color": {"field": "g", "type": "nominal", "legend": null}}},
    {"mark": {"type": "rule", "strokeWidth": 3},
     "encoding": {"x": {"field": "cat", "type": "nominal", "sort": null}, "y": {"field": "v", "type": "quantitative"}, "y2": {"field": "e"}, "color": {"field": "g", "type": "nominal", "legend": null}}},
    {"mark": {"type": "tick", "thickness": 4, "size": 34},
     "encoding": {"x": {"field": "cat", "type": "nominal", "sort": null}, "y": {"field": "e", "type": "quantitative"}, "color": {"field": "g", "type": "nominal", "legend": null}}},
    {"mark": {"type": "text", "fontSize": 18.5, "baseline": "top", "dy": 41},
     "encoding": {"x": {"field": "cat", "type": "nominal", "sort": null}, "y": {"datum": 0, "type": "quantitative"}, "text": {"field": "sub"}, "color": {"field": "g", "type": "nominal", "legend": null}}}
   ]}
 ], "spacing": 105, "bounds": "flush"}
]
}
